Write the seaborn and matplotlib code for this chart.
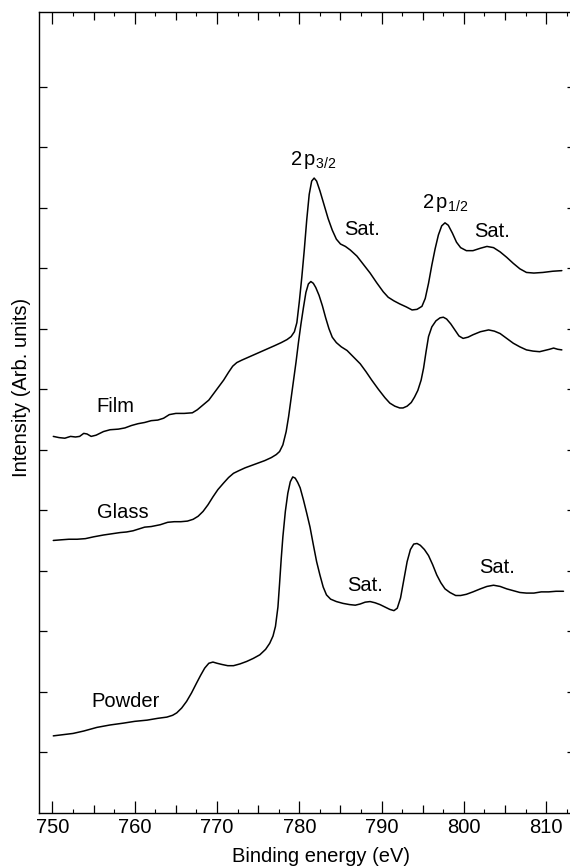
import numpy as np
import pandas as pd
import matplotlib
matplotlib.use("Agg")
import matplotlib.pyplot as plt
from matplotlib.ticker import MultipleLocator, FixedLocator, FuncFormatter
import seaborn as sns

# Cu 2p XPS spectra (binding energy in eV, intensity in arbitrary offset units)
film_energy = [750.1, 750.8, 751.5, 752.2, 752.8, 753.3, 753.8, 754.2, 754.7, 755.3,
               756.2, 757.0, 758.0, 758.8, 759.6, 760.4, 761.2, 762.0, 762.8, 763.5,
               764.2, 765.0, 766.0, 767.0, 767.6, 768.3, 769.0, 769.6, 770.2, 770.8,
               771.4, 771.9, 772.4, 773.0, 774.0, 775.0, 776.0, 777.0, 777.8, 778.5,
               779.0, 779.4, 779.7, 780.0, 780.3, 780.6, 780.9, 781.2, 781.5, 781.8,
               782.1, 782.5, 783.0, 783.5, 784.0, 784.5, 785.0, 785.6, 786.2, 787.0,
               787.8, 788.6, 789.4, 790.2, 790.8, 791.5, 792.2, 793.0, 793.7, 794.3,
               794.9, 795.3, 795.7, 796.1, 796.5, 796.9, 797.3, 797.7, 798.1, 798.6,
               799.1, 799.6, 800.3, 801.1, 802.0, 802.8, 803.6, 804.4, 805.2, 806.0,
               806.8, 807.6, 808.5, 809.6, 810.8, 811.9]
film_intensity = [6.22, 6.20, 6.19, 6.22, 6.21, 6.22, 6.27, 6.26, 6.22, 6.24,
                  6.30, 6.33, 6.34, 6.36, 6.40, 6.43, 6.45, 6.48, 6.49, 6.52,
                  6.58, 6.60, 6.60, 6.61, 6.66, 6.74, 6.82, 6.93, 7.04, 7.15,
                  7.28, 7.38, 7.44, 7.48, 7.54, 7.60, 7.66, 7.72, 7.77, 7.82,
                  7.87, 7.95, 8.10, 8.45, 8.85, 9.30, 9.80, 10.22, 10.44, 10.49,
                  10.44, 10.28, 10.05, 9.82, 9.63, 9.48, 9.40, 9.36, 9.30, 9.20,
                  9.06, 8.92, 8.76, 8.61, 8.52, 8.46, 8.41, 8.36, 8.31, 8.32,
                  8.37, 8.50, 8.75, 9.05, 9.32, 9.55, 9.70, 9.75, 9.71, 9.58,
                  9.43, 9.34, 9.29, 9.29, 9.33, 9.36, 9.34, 9.27, 9.18, 9.08,
                  8.99, 8.93, 8.92, 8.93, 8.95, 8.96]

glass_energy = [750.1, 751.0, 752.0, 753.0, 754.0, 755.0, 756.2, 757.2, 758.2, 759.0,
                759.8, 760.5, 761.2, 762.0, 763.1, 764.0, 764.8, 765.6, 766.4, 767.1,
                767.7, 768.3, 768.9, 769.5, 770.1, 770.8, 771.4, 772.0, 772.6, 773.4,
                774.2, 775.0, 775.8, 776.6, 777.2, 777.6, 778.0, 778.4, 778.7, 779.0,
                779.3, 779.6, 779.9, 780.2, 780.5, 780.8, 781.1, 781.4, 781.7, 782.0,
                782.4, 782.8, 783.2, 783.6, 784.0, 784.5, 785.1, 785.8, 786.6, 787.4,
                788.1, 788.8, 789.6, 790.4, 791.0, 791.6, 792.2, 792.6, 793.1, 793.6,
                794.0, 794.4, 794.8, 795.1, 795.4, 795.7, 796.1, 796.6, 797.1, 797.5,
                797.9, 798.4, 798.9, 799.4, 799.9, 800.5, 801.1, 802.0, 803.0, 803.7,
                804.4, 805.2, 806.0, 806.8, 807.6, 808.4, 809.2, 809.8, 810.4, 810.9,
                811.4, 811.9]
glass_intensity = [4.50, 4.51, 4.52, 4.52, 4.53, 4.56, 4.59, 4.61, 4.63, 4.64,
                   4.66, 4.69, 4.72, 4.73, 4.76, 4.80, 4.81, 4.81, 4.82, 4.85,
                   4.90, 4.98, 5.09, 5.22, 5.34, 5.45, 5.54, 5.61, 5.65, 5.70,
                   5.74, 5.78, 5.82, 5.87, 5.92, 5.97, 6.08, 6.30, 6.55, 6.85,
                   7.15, 7.45, 7.78, 8.08, 8.35, 8.60, 8.74, 8.78, 8.75, 8.68,
                   8.55, 8.38, 8.18, 8.00, 7.86, 7.77, 7.70, 7.64, 7.53, 7.42,
                   7.29, 7.15, 7.00, 6.86, 6.77, 6.72, 6.69, 6.69, 6.72, 6.78,
                   6.87, 6.98, 7.15, 7.35, 7.62, 7.87, 8.03, 8.13, 8.18, 8.19,
                   8.16, 8.08, 7.98, 7.88, 7.84, 7.86, 7.90, 7.95, 7.98, 7.96,
                   7.92, 7.84, 7.76, 7.70, 7.65, 7.63, 7.62, 7.64, 7.66, 7.68,
                   7.66, 7.65]

powder_energy = [750.1, 751.3, 752.5, 753.8, 755.4, 757.0, 758.6, 760.0, 761.5, 762.8,
                 763.9, 764.6, 765.1, 765.7, 766.3, 766.9, 767.5, 768.0, 768.5, 769.0,
                 769.5, 770.0, 770.6, 771.3, 772.0, 772.8, 773.6, 774.4, 775.2, 775.9,
                 776.4, 776.8, 777.1, 777.4, 777.6, 777.8, 778.0, 778.3, 778.6, 778.9,
                 779.2, 779.5, 779.8, 780.1, 780.5, 780.9, 781.3, 781.7, 782.1, 782.5,
                 782.9, 783.3, 783.8, 784.5, 785.3, 786.1, 786.8, 787.4, 788.0, 788.6,
                 789.2, 789.8, 790.4, 791.0, 791.5, 791.9, 792.3, 792.7, 793.1, 793.5,
                 793.9, 794.3, 794.7, 795.2, 795.7, 796.2, 796.7, 797.2, 797.7, 798.3,
                 799.0, 799.6, 800.3, 801.1, 802.0, 802.8, 803.6, 804.4, 805.2, 806.0,
                 806.8, 807.6, 808.5, 809.4, 810.3, 811.2, 812.1]
powder_intensity = [1.27, 1.29, 1.31, 1.35, 1.41, 1.45, 1.48, 1.51, 1.53, 1.56,
                    1.58, 1.61, 1.65, 1.73, 1.84, 1.98, 2.14, 2.27, 2.39, 2.47,
                    2.49, 2.47, 2.45, 2.43, 2.43, 2.46, 2.50, 2.55, 2.61, 2.70,
                    2.80, 2.92, 3.08, 3.40, 3.79, 4.20, 4.56, 4.98, 5.28, 5.47,
                    5.55, 5.53, 5.46, 5.37, 5.17, 4.95, 4.72, 4.43, 4.15, 3.93,
                    3.73, 3.60, 3.53, 3.49, 3.46, 3.44, 3.43, 3.45, 3.48, 3.49,
                    3.47, 3.44, 3.40, 3.36, 3.34, 3.38, 3.55, 3.85, 4.15, 4.35,
                    4.44, 4.45, 4.42, 4.35, 4.25, 4.10, 3.93, 3.80, 3.70, 3.64,
                    3.59, 3.59, 3.61, 3.65, 3.70, 3.74, 3.76, 3.74, 3.70, 3.67,
                    3.64, 3.63, 3.63, 3.65, 3.65, 3.66, 3.66]

sample_names = ["Film", "Glass", "Powder"]
sample_label_pos = [(757.6, 6.71), (758.6, 4.97), (758.9, 1.83)]

peak_labels = [r"$\mathrm{2\,p_{3/2}}$", r"$\mathrm{2\,p_{1/2}}$"]
peak_label_pos = [(778.9, 10.71), (794.9, 9.99)]

sat_label_pos = [(787.6, 9.64), (803.4, 9.61), (788.0, 3.76), (804.0, 4.05)]

x_tick_values = [750, 760, 770, 780, 790, 800, 810]
y_tick_values = list(range(1, 13))

sns.set_style("ticks")
plt.rcParams["font.family"] = ["Liberation Sans", "DejaVu Sans"]
plt.rcParams["mathtext.fontset"] = "custom"
plt.rcParams["mathtext.rm"] = "Liberation Sans"
plt.rcParams["mathtext.it"] = "Liberation Sans:italic"
plt.rcParams["text.color"] = "black"
plt.rcParams["axes.labelcolor"] = "black"
plt.rcParams["xtick.color"] = "black"
plt.rcParams["ytick.color"] = "black"

FS = 14.5

fig = plt.figure(figsize=(5.70, 8.66), dpi=100)
ax = fig.add_axes([39.3 / 570, (866 - 812.7) / 866, 535.7 / 570, 800.4 / 866])

frames = {
    "Film": pd.DataFrame({"energy": film_energy, "intensity": film_intensity}),
    "Glass": pd.DataFrame({"energy": glass_energy, "intensity": glass_intensity}),
    "Powder": pd.DataFrame({"energy": powder_energy, "intensity": powder_intensity}),
}
for name, df in frames.items():
    sns.lineplot(data=df, x="energy", y="intensity", ax=ax, color="black",
                 linewidth=1.1, sort=False, estimator=None)

for name, (x, y) in zip(sample_names, sample_label_pos):
    ax.text(x, y, name, fontsize=FS, ha="center", va="center", color="black")
for lab, (x, y) in zip(peak_labels, peak_label_pos):
    ax.text(x, y, lab, fontsize=FS, ha="left", va="baseline", color="black")
for x, y in sat_label_pos:
    ax.text(x, y, "Sat.", fontsize=FS, ha="center", va="center", color="black")

ax.set_xlim(748.4, 813.5)
ax.set_ylim(0, 13.23)

ax.xaxis.set_major_locator(MultipleLocator(5))
ax.xaxis.set_minor_locator(MultipleLocator(2.5))
ax.xaxis.set_major_formatter(
    FuncFormatter(lambda v, p: f"{v:.0f}" if round(v) in x_tick_values else ""))
ax.yaxis.set_major_locator(FixedLocator(y_tick_values))
ax.yaxis.set_minor_locator(FixedLocator([]))
ax.set_yticklabels([])

ax.tick_params(axis="x", which="major", direction="in", top=True, bottom=True,
               length=5.5, width=0.9, labelsize=FS, pad=4, color="black")
ax.tick_params(axis="x", which="minor", direction="in", top=True, bottom=True,
               length=3.0, width=0.8, color="black")
ax.tick_params(axis="y", which="major", direction="in", left=True, right=True,
               length=6.0, width=0.9, color="black")

# Longer ticks at every 10 eV
locs = ax.xaxis.get_majorticklocs()
ticks = ax.xaxis.get_major_ticks(len(locs))
for t, loc in zip(ticks, locs):
    if round(loc) % 10 == 0:
        t.tick1line.set_markersize(8.6)
        t.tick2line.set_markersize(8.6)

for s in ax.spines.values():
    s.set_linewidth(1.0)
    s.set_color("black")
ax.spines["right"].set_visible(False)

ax.set_xlabel("Binding energy (eV)", fontsize=FS)
ax.set_ylabel("Intensity (Arb. units)", fontsize=FS)
ax.xaxis.set_label_coords((321 - 39.3) / 535.7, -0.043)
ax.yaxis.set_label_coords(-0.016, (812.7 - 387) / 800.4)

fig.savefig("out.png", dpi=100)
